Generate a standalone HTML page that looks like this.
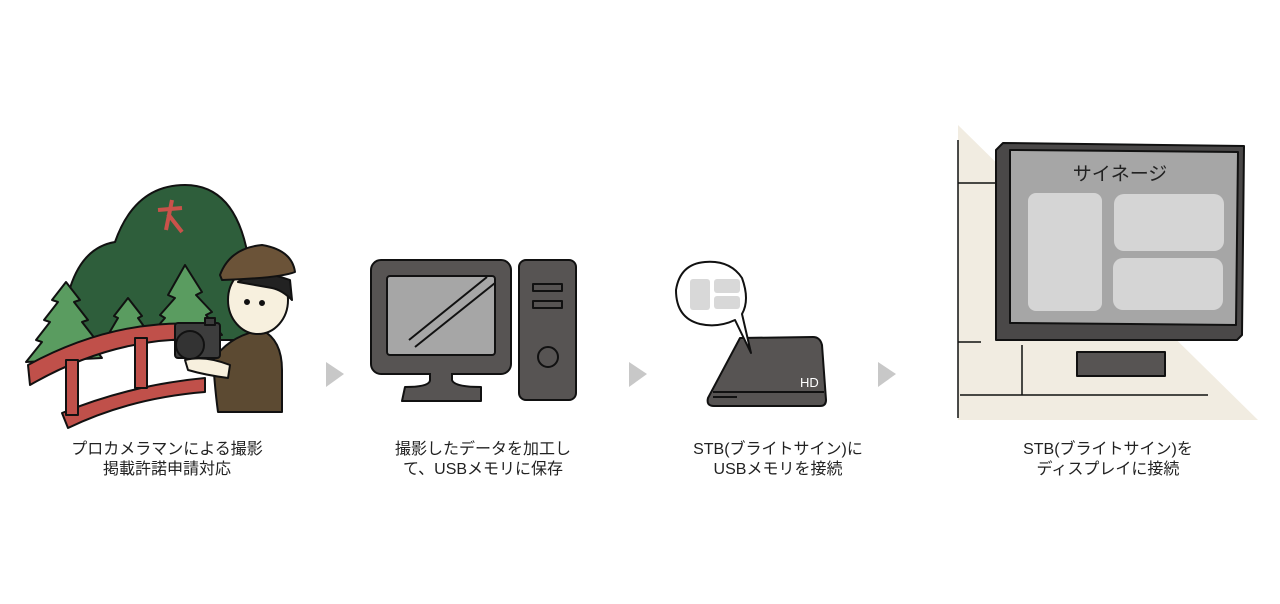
<!DOCTYPE html>
<html><head><meta charset="utf-8"><style>
body{margin:0;width:1280px;height:604px;background:#fff;overflow:hidden;position:relative;font-family:"Liberation Sans","Noto Sans CJK JP",sans-serif;}
.t{position:absolute;width:300px;text-align:center;font-size:16px;line-height:20px;color:#222;top:440px}
</style></head><body>
<svg width="1280" height="604" style="position:absolute;left:0;top:0" stroke="#111" stroke-width="2" stroke-linejoin="round">
<!-- photographer -->
<path d="M62,340 Q66,250 115,242 Q135,185 185,185 Q240,185 250,270 L250,340 Z" fill="#2e5e3b"/>
<path d="M158,210 L182,208 M172,200 L166,230 M168,214 L182,232" stroke="#c9524a" stroke-width="4" fill="none"/>
<path d="M26,362 L42,342 L36,340 L50,322 L44,320 L58,302 L52,300 L66,282 L80,300 L74,302 L88,320 L82,322 L96,340 L90,342 L102,358 Z" fill="#5a9c60"/>
<path d="M108,335 L118,318 L114,316 L128,298 L142,316 L138,318 L150,335 Z" fill="#5a9c60"/>
<path d="M150,335 L165,318 L160,315 L175,298 L168,295 L185,265 L202,292 L196,295 L212,312 L206,315 L222,335 Z" fill="#5a9c60"/>
<path d="M28,365 Q120,315 215,325 L215,340 Q120,333 30,385 Z" fill="#c0504a"/>
<path d="M62,413 Q130,385 205,378 L205,392 Q130,398 68,428 Z" fill="#c0504a"/>
<rect x="66" y="360" width="12" height="55" fill="#c0504a"/>
<rect x="135" y="338" width="12" height="50" fill="#c0504a"/>
<path d="M213,360 Q230,335 262,330 Q282,340 282,370 L282,412 L218,412 Q215,390 213,360 Z" fill="#5c4a32"/>
<ellipse cx="258" cy="300" rx="30" ry="34" fill="#f7f0de"/>
<path d="M238,282 Q258,268 290,280 L292,300 Q282,290 272,288 Z" fill="#222"/>
<path d="M220,275 Q230,248 262,245 Q292,250 295,272 Q280,278 222,280 Z" fill="#6b5338"/>
<circle cx="247" cy="302" r="2" fill="#111"/><circle cx="262" cy="303" r="2" fill="#111"/>
<rect x="175" y="323" width="45" height="35" rx="3" fill="#3d3d3d"/>
<rect x="205" y="318" width="10" height="7" fill="#3d3d3d"/>
<circle cx="190" cy="345" r="14" fill="#333"/>
<path d="M185,360 Q205,355 230,365 L228,378 Q205,375 188,370 Z" fill="#f7f0de"/>
<!-- arrows -->
<g fill="#c8c8c8" stroke="none"><path d="M326,362 L344,374 L326,387 Z"/><path d="M629,362 L647,374 L629,387 Z"/><path d="M878,362 L896,374 L878,387 Z"/></g>
<!-- computer -->
<rect x="371" y="260" width="140" height="114" rx="10" fill="#575453"/>
<rect x="387" y="276" width="108" height="79" rx="3" fill="#a6a6a6"/>
<path d="M409,340 L487,277 M415,347 L495,283" fill="none"/>
<path d="M430,373 L430,380 Q430,387 405,387 L402,401 L481,401 L481,387 Q454,387 452,380 L452,373" fill="#575453"/>
<rect x="519" y="260" width="57" height="140" rx="7" fill="#575453"/>
<rect x="533" y="284" width="29" height="7" fill="#575453"/>
<rect x="533" y="301" width="29" height="7" fill="#575453"/>
<circle cx="548" cy="357" r="10" fill="#575453"/>
<!-- STB -->
<path d="M708,398 L740,338 L813,337 Q820,337 822,345 L826,400 Q826,406 820,406 L714,406 Q706,406 708,398 Z" fill="#575453"/>
<path d="M713,392 L824,392 M713,397 L737,397" fill="none"/>
<text x="800" y="387" font-size="13" fill="#fff" stroke="none" font-family="Liberation Sans">HD</text>
<path d="M742,314 Q750,300 742,278 Q730,260 705,262 Q680,264 676,290 Q676,318 700,324 Q718,328 735,320 L751,353 Z" fill="#fff"/>
<rect x="690" y="279" width="20" height="31" rx="3" fill="#d8d8d8" stroke="none"/>
<rect x="714" y="279" width="26" height="14" rx="3" fill="#d8d8d8" stroke="none"/>
<rect x="714" y="296" width="26" height="13" rx="3" fill="#d8d8d8" stroke="none"/>
<!-- signage -->
<path d="M958,125 L1258,420 L958,420 Z" fill="#f1ece1" stroke="none"/>
<g stroke-width="1.5" fill="none"><path d="M958,140 L958,418 M958,183 L996,183 M958,342 L981,342 M1022,345 L1022,395 M960,395 L1208,395"/></g>
<path d="M996,150 L1003,143 L1244,146 L1242,335 L1237,340 L996,340 Z" fill="#4a4848"/>
<path d="M1010,150 L1238,152 L1236,325 L1010,323 Z" fill="#a6a6a6"/>
<rect x="1028" y="193" width="74" height="118" rx="8" fill="#d5d5d5" stroke="none"/>
<rect x="1114" y="194" width="110" height="57" rx="10" fill="#d5d5d5" stroke="none"/>
<rect x="1113" y="258" width="110" height="52" rx="10" fill="#d5d5d5" stroke="none"/>
<text x="1120" y="180" font-size="19" text-anchor="middle" fill="#222" stroke="none" font-family="Liberation Sans,Noto Sans CJK JP,sans-serif">サイネージ</text>
<rect x="1077" y="352" width="88" height="24" fill="#575453"/>
</svg>
<div class="t" style="left:17px">プロカメラマンによる撮影<br>掲載許諾申請対応</div>
<div class="t" style="left:333px">撮影したデータを加工し<br>て、USBメモリに保存</div>
<div class="t" style="left:628px">STB(ブライトサイン)に<br>USBメモリを接続</div>
<div class="t" style="left:958px">STB(ブライトサイン)を<br>ディスプレイに接続</div>
</body></html>
